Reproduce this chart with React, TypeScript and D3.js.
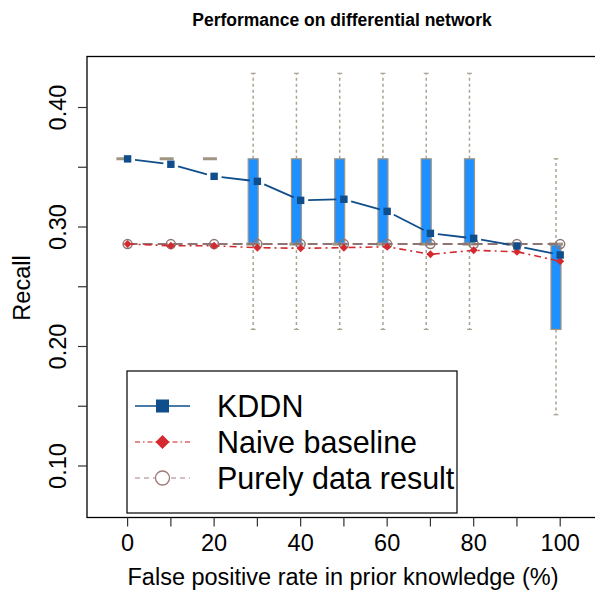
import React from "react";
import * as d3 from "d3";

const fpr = [0, 10, 20, 30, 40, 50, 60, 70, 80, 90, 100];
const kddn = [0.357, 0.3525, 0.3424, 0.3382, 0.3223, 0.3232, 0.3131, 0.2947, 0.2905, 0.2841, 0.2766];
const naive = [0.2858, 0.2843, 0.2843, 0.2827, 0.2822, 0.2827, 0.2835, 0.2771, 0.2805, 0.2793, 0.2713];
const purely = [0.2857, 0.2857, 0.2857, 0.2857, 0.2857, 0.2857, 0.2857, 0.2857, 0.2857, 0.2857, 0.2857];

const whiskerLo = [0.3571, 0.3571, 0.3571, 0.2143, 0.2143, 0.2143, 0.2143, 0.2143, 0.2143, 0.2857, 0.1429];
const q1 = [0.3571, 0.3571, 0.3571, 0.2857, 0.2857, 0.2857, 0.2857, 0.2857, 0.2857, 0.2857, 0.2143];
const med = [0.3571, 0.3571, 0.3571, 0.2857, 0.2857, 0.2857, 0.2857, 0.2857, 0.2857, 0.2857, 0.2857];
const q3 = [0.3571, 0.3571, 0.3571, 0.3571, 0.3571, 0.3571, 0.3571, 0.3571, 0.3571, 0.2857, 0.2857];
const whiskerHi = [0.3571, 0.3571, 0.3571, 0.4286, 0.4286, 0.4286, 0.4286, 0.4286, 0.4286, 0.2857, 0.3571];

const xTicks = [0, 10, 20, 30, 40, 50, 60, 70, 80, 90, 100];
const xLabels = [0, 20, 40, 60, 80, 100];
const yTicks = [0.1, 0.15, 0.2, 0.25, 0.3, 0.35, 0.4];
const yLabels = [0.1, 0.2, 0.3, 0.4];

const legendLabels = ["KDDN", "Naive baseline", "Purely data result"];

const C_KDDN = "#104E8B";
const C_NAIVE = "#D42A2F";
const C_PURE = "#8E7474";
const C_BOXLINE = "#A09482";
const C_WHISK = "#ABA293";
const C_BOXFILL = "#1E90FF";

export default function App() {
  const W = 595, H = 595;
  const frame = { l: 87, t: 56.5, r: 597, b: 517.5 };
  const x = d3.scaleLinear().domain([0, 100]).range([127.6, 560.2]);
  const y = d3.scaleLinear().domain([0.1, 0.4]).range([466, 107.5]);
  const font = "Liberation Sans, Arial, sans-serif";
  const boxOff = -4.2;
  const bw = 5;

  const gap = 7.5;
  const kSegs = kddn.slice(0, -1).map((v, i) => {
    const x0 = x(fpr[i]), y0 = y(v), x1 = x(fpr[i + 1]), y1 = y(kddn[i + 1]);
    const dx = x1 - x0, dy = y1 - y0, L = Math.hypot(dx, dy);
    const ux = dx / L, uy = dy / L;
    return { x0: x0 + ux * gap, y0: y0 + uy * gap, x1: x1 - ux * gap, y1: y1 - uy * gap };
  });

  const naiveLine = d3.line<number>().x((_, i) => x(fpr[i])).y((v) => y(v));
  const pureLine = d3.line<number>().x((_, i) => x(fpr[i])).y((v) => y(v));

  const diamond = (cx: number, cy: number, r: number) =>
    `M${cx},${cy - r}L${cx + r},${cy}L${cx},${cy + r}L${cx - r},${cy}Z`;

  const legRows = [406, 442, 478];

  return (
    <svg width={W} height={H} style={{ position: "absolute", left: 0, top: 0, background: "#fff" }}>
      <text x={342} y={26} textAnchor="middle" fontFamily={font} fontWeight="bold" fontSize={17.5}>
        Performance on differential network
      </text>

      {fpr.map((f, i) => {
        const cx = x(f) + boxOff;
        return (
          <g key={"b" + i}>
            {whiskerHi[i] > q3[i] && (
              <g>
                <line x1={cx} x2={cx} y1={y(q3[i])} y2={y(whiskerHi[i])} stroke={C_WHISK} strokeWidth={1.5} strokeDasharray="3,3" />
                <line x1={cx - 2.5} x2={cx + 2.5} y1={y(whiskerHi[i])} y2={y(whiskerHi[i])} stroke={C_WHISK} strokeWidth={1.2} />
              </g>
            )}
            {whiskerLo[i] < q1[i] && (
              <g>
                <line x1={cx} x2={cx} y1={y(q1[i])} y2={y(whiskerLo[i])} stroke={C_WHISK} strokeWidth={1.5} strokeDasharray="3,3" />
                <line x1={cx - 2.5} x2={cx + 2.5} y1={y(whiskerLo[i])} y2={y(whiskerLo[i])} stroke={C_WHISK} strokeWidth={1.2} />
              </g>
            )}
            {q3[i] > q1[i] && (
              <rect x={cx - bw} y={y(q3[i])} width={bw * 2} height={y(q1[i]) - y(q3[i])} fill={C_BOXFILL} stroke={C_BOXLINE} strokeWidth={1.2} />
            )}
            <line x1={cx - bw - 2} x2={cx + bw + 2} y1={y(med[i])} y2={y(med[i])} stroke={C_BOXLINE} strokeWidth={3} />
          </g>
        );
      })}

      <path d={pureLine(purely) || ""} fill="none" stroke={C_PURE} strokeWidth={2} strokeDasharray="10,5" />
      {purely.map((v, i) => (
        <circle key={"p" + i} cx={x(fpr[i])} cy={y(v)} r={4.5} fill="none" stroke={C_PURE} strokeWidth={1.5} />
      ))}

      <path d={naiveLine(naive) || ""} fill="none" stroke={C_NAIVE} strokeWidth={1.6} strokeDasharray="7,4,2,4" />
      {naive.map((v, i) => (
        <path key={"n" + i} d={diamond(x(fpr[i]), y(v), 4)} fill={C_NAIVE} />
      ))}

      {kSegs.map((s, i) => (
        <line key={"k" + i} x1={s.x0} y1={s.y0} x2={s.x1} y2={s.y1} stroke={C_KDDN} strokeWidth={1.8} />
      ))}
      {kddn.map((v, i) => (
        <rect key={"kp" + i} x={x(fpr[i]) - 3.7} y={y(v) - 3.7} width={7.4} height={7.4} fill={C_KDDN} />
      ))}

      <rect x={frame.l} y={frame.t} width={frame.r - frame.l} height={frame.b - frame.t} fill="none" stroke="#000" strokeWidth={1.3} />

      {xTicks.map((t) => (
        <line key={"xt" + t} x1={x(t)} x2={x(t)} y1={frame.b} y2={frame.b + 9} stroke="#333" strokeWidth={1.2} />
      ))}
      {xLabels.map((t) => (
        <text key={"xl" + t} x={x(t)} y={551} textAnchor="middle" fontFamily={font} fontSize={23.5}>
          {t}
        </text>
      ))}
      <text x={343} y={585} textAnchor="middle" fontFamily={font} fontSize={23.5}>
        False positive rate in prior knowledge (%)
      </text>

      {yTicks.map((t) => (
        <line key={"yt" + t} x1={frame.l - 9} x2={frame.l} y1={y(t)} y2={y(t)} stroke="#333" strokeWidth={1.2} />
      ))}
      {yLabels.map((t) => (
        <text key={"yl" + t} transform={`translate(66,${y(t)}) rotate(-90)`} textAnchor="middle" fontFamily={font} fontSize={23.5}>
          {d3.format(".2f")(t)}
        </text>
      ))}
      <text transform={`translate(30,288) rotate(-90)`} textAnchor="middle" fontFamily={font} fontSize={23.5}>
        Recall
      </text>

      <rect x={127} y={371} width={330} height={142} fill="#fff" stroke="#000" strokeWidth={1.2} />
      <line x1={135} x2={190} y1={legRows[0]} y2={legRows[0]} stroke={C_KDDN} strokeWidth={1.5} />
      <rect x={162.5 - 6.5} y={legRows[0] - 6.5} width={13} height={13} fill={C_KDDN} />
      <line x1={135} x2={190} y1={legRows[1]} y2={legRows[1]} stroke="#E06666" strokeWidth={1.3} strokeDasharray="5,3,1.5,3" />
      <path d={diamond(162.5, legRows[1], 7)} fill={C_NAIVE} />
      <line x1={135} x2={190} y1={legRows[2]} y2={legRows[2]} stroke="#A88080" strokeWidth={1.2} strokeDasharray="5,4" />
      <circle cx={162.5} cy={legRows[2]} r={7} fill="#fff" stroke="#A07878" strokeWidth={1.3} />
      {legendLabels.map((l, i) => (
        <text key={l} x={217} y={legRows[i] + 11} fontFamily={font} fontSize={30.5}>
          {l}
        </text>
      ))}
    </svg>
  );
}
